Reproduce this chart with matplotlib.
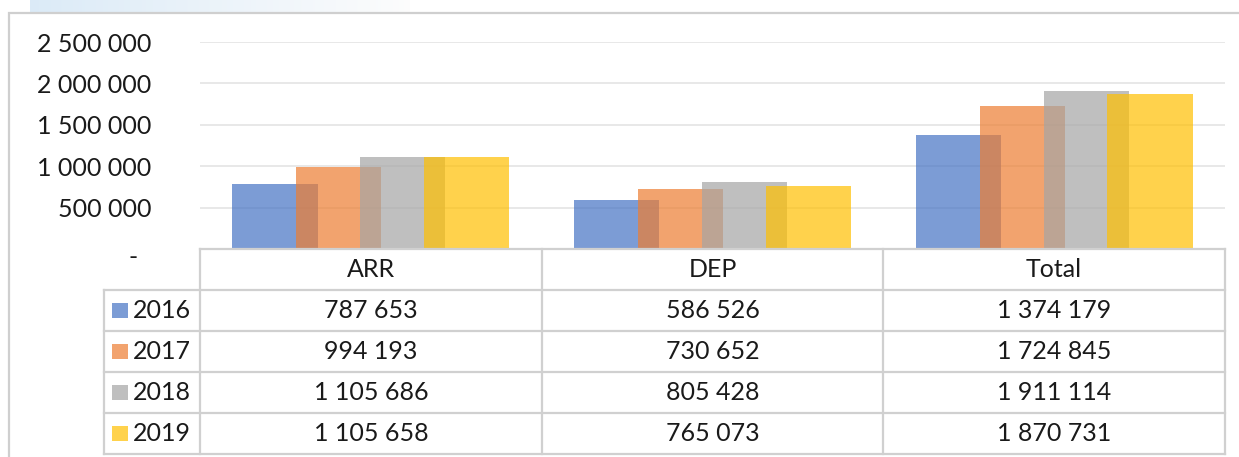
import numpy as np
import matplotlib.pyplot as plt
import matplotlib.transforms as mtransforms
from matplotlib.patches import Rectangle

categories = ["ARR", "DEP", "Total"]
years = ["2016", "2017", "2018", "2019"]
v2016 = [787653, 586526, 1374179]
v2017 = [994193, 730652, 1724845]
v2018 = [1105686, 805428, 1911114]
v2019 = [1105658, 765073, 1870731]
yticks = [0, 500000, 1000000, 1500000, 2000000, 2500000]

series = [v2016, v2017, v2018, v2019]
colors = ["#4472C4", "#ED7D31", "#A5A5A5", "#FFC000"]

def fmt(v):
    return f"{v:,}".replace(",", " ")

plt.rcParams["font.family"] = ["Lato", "DejaVu Sans"]
W, H = 1239, 457
fig = plt.figure(figsize=(W / 100, H / 100), dpi=100)

# decorative light strip at the very top and chart frame
strip = fig.add_axes([30 / W, 1 - 12 / H, 380 / W, 12 / H])
grad = np.linspace(0, 1, 200)
img = np.ones((1, 200, 3))
img[0, :, 0] = 0.86 + 0.13 * grad
img[0, :, 1] = 0.92 + 0.07 * grad
img[0, :, 2] = 0.97 + 0.02 * grad
strip.imshow(img, aspect="auto")
strip.axis("off")
fig.patches.append(Rectangle((9 / W, -0.1), 1.2, 1.1 - 13 / H, transform=fig.transFigure,
                             fill=False, edgecolor="#cfcfcf", linewidth=1.6))

ax = fig.add_axes([200 / W, 1 - 249 / H, 1025 / W, 207 / H])
x = np.arange(len(categories))
bw = 0.249
step = 0.187
for i, (vals, c) in enumerate(zip(series, colors)):
    ax.bar(x + (i - 1.5) * step, vals, width=bw, color=c, alpha=0.7, linewidth=0, zorder=2)

ax.set_xlim(-0.5, 2.5)
ax.set_ylim(0, 2500000)
ax.set_yticks(yticks)
ax.set_yticklabels([fmt(t) if t else "-" for t in yticks], fontsize=18, color="#1a1a1a")
ax.tick_params(axis="y", length=0, pad=35)
ax.set_xticks([])
for s in ax.spines.values():
    s.set_visible(False)
ax.grid(axis="y", color="#e6e6e6", linewidth=1.3, zorder=0)
ax.set_axisbelow(True)
zero_lbl = ax.get_yticklabels()[0]
zero_lbl.set_transform(zero_lbl.get_transform() +
                       mtransforms.ScaledTranslation(-14 / 100, -6 / 100, fig.dpi_scale_trans))

# data table under the plot
tr = mtransforms.blended_transform_factory(ax.transData, ax.transAxes)
rh = 41 / 207
lab_left = -0.5 - 96 / (1025 / 3)
line_kw = dict(color="#d0d0d0", linewidth=1.6, transform=tr, clip_on=False)
n = len(years)
# horizontal lines
ax.plot([-0.5, 2.5], [0, 0], **line_kw)
for r in range(1, n + 2):
    ax.plot([lab_left, 2.5], [-r * rh, -r * rh], **line_kw)
# vertical lines
ax.plot([lab_left, lab_left], [-rh, -(n + 1) * rh], **line_kw)
for xb in [-0.5, 0.5, 1.5, 2.5]:
    ax.plot([xb, xb], [0, -(n + 1) * rh], **line_kw)

txt_kw = dict(transform=tr, fontsize=18, color="#1a1a1a", va="center", clip_on=False)
for j, cat in enumerate(categories):
    ax.text(j, -0.5 * rh, cat, ha="center", **txt_kw)
for r, (yr, vals, c) in enumerate(zip(years, series, colors)):
    yc = -(r + 1.5) * rh
    ax.add_patch(Rectangle((lab_left + 8 / 341.67, yc - 0.037), 16 / 341.67, 0.075,
                           transform=tr, color=c, alpha=0.7, linewidth=0, clip_on=False))
    ax.text(lab_left + 29 / 341.67, yc, yr, ha="left", **txt_kw)
    for j, v in enumerate(vals):
        ax.text(j, yc, fmt(v), ha="center", **txt_kw)

fig.savefig("out.png", dpi=100)
